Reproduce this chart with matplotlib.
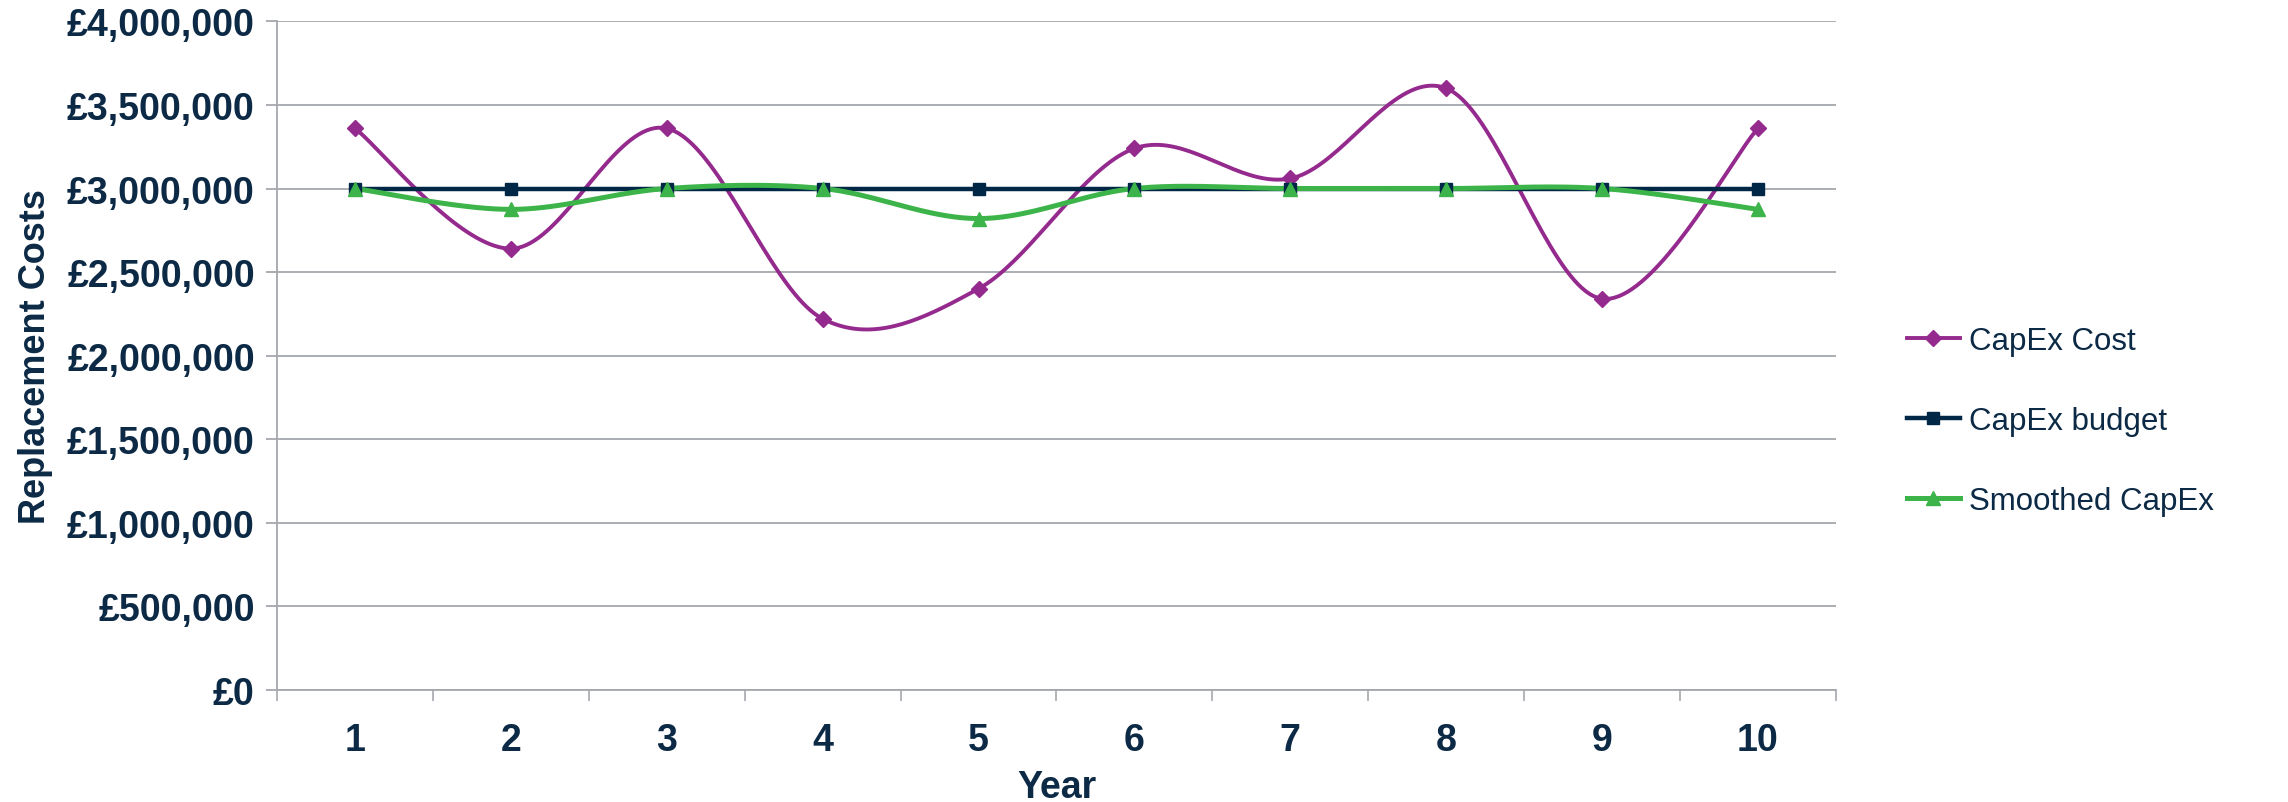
import numpy as np
import matplotlib
matplotlib.use("Agg")
import matplotlib.pyplot as plt
from matplotlib.ticker import FuncFormatter, MultipleLocator, FixedLocator
from matplotlib.lines import Line2D

# yearly replacement costs
years = [1, 2, 3, 4, 5, 6, 7, 8, 9, 10]
capex_cost = [3360000, 2640000, 3360000, 2220000, 2400000, 3240000, 3060000, 3600000, 2340000, 3360000]
capex_budget = [3000000, 3000000, 3000000, 3000000, 3000000, 3000000, 3000000, 3000000, 3000000, 3000000]
smoothed_capex = [3000000, 2875000, 3000000, 3000000, 2820000, 3000000, 3000000, 3000000, 3000000, 2875000]

NAVY = "#0c2a45"
PURPLE = "#952a8e"
DARK = "#002846"
GREEN = "#3cb44a"
GRID = "#a4a8ad"

plt.rcParams['font.family'] = ['Liberation Sans', 'DejaVu Sans']


def smooth(xs, ys, n=40):
    # Catmull-Rom style bezier through every point, ends duplicated
    xs = np.asarray(xs, float)
    ys = np.asarray(ys, float)
    px = np.concatenate([[xs[0]], xs, [xs[-1]]])
    py = np.concatenate([[ys[0]], ys, [ys[-1]]])
    outx, outy = [], []
    t = np.linspace(0, 1, n)
    for i in range(1, len(px) - 2):
        p0 = np.array([px[i], py[i]])
        p3 = np.array([px[i + 1], py[i + 1]])
        c1 = p0 + (np.array([px[i + 1], py[i + 1]]) - np.array([px[i - 1], py[i - 1]])) / 6
        c2 = p3 - (np.array([px[i + 2], py[i + 2]]) - np.array([px[i], py[i]])) / 6
        b = ((1 - t) ** 3)[:, None] * p0 + (3 * (1 - t) ** 2 * t)[:, None] * c1 \
            + (3 * (1 - t) * t ** 2)[:, None] * c2 + (t ** 3)[:, None] * p3
        outx.extend(b[:, 0])
        outy.extend(b[:, 1])
    return outx, outy


fig = plt.figure(figsize=(22.88, 8.03), dpi=100)
ax = fig.add_axes([0.1211, 0.140, 0.6813, 0.832])

series = [
    (capex_cost, PURPLE, "D", 8, 2.8, True, "CapEx Cost"),
    (capex_budget, DARK, "s", 8.5, 3.2, False, "CapEx budget"),
    (smoothed_capex, GREEN, "^", 9.5, 3.6, True, "Smoothed CapEx"),
]
handles = []
for vals, col, mk, ms, lw, sm, name in series:
    if sm:
        sx, sy = smooth(years, vals)
    else:
        sx, sy = years, vals
    ax.plot(sx, sy, color=col, lw=lw, zorder=3, solid_capstyle='round')
    ax.plot(years, vals, ls='none', marker=mk, ms=ms, color=col, zorder=4)
    handles.append(Line2D([], [], color=col, lw=lw, marker=mk, ms=ms, label=name))

ax.set_xlim(0.5, 10.5)
ax.set_ylim(0, 4000000)
ax.yaxis.set_major_locator(MultipleLocator(500000))
ax.yaxis.set_major_formatter(FuncFormatter(lambda v, p: "£{:,.0f}".format(v)))
ax.grid(axis='y', color=GRID, lw=1.3)
ax.set_axisbelow(True)

ax.xaxis.set_major_locator(FixedLocator(years))
ax.xaxis.set_minor_locator(FixedLocator(np.arange(0.5, 11, 1)))
ax.tick_params(axis='x', which='major', length=0, pad=23)
ax.tick_params(axis='x', which='minor', length=8, width=1.2, color=GRID)
ax.tick_params(axis='y', length=8, width=1.3, color=GRID, pad=8)

for s in ['top', 'right']:
    ax.spines[s].set_visible(False)
for s in ['left', 'bottom']:
    ax.spines[s].set_color(GRID)
    ax.spines[s].set_linewidth(1.3)

for lab in ax.get_xticklabels() + ax.get_yticklabels():
    lab.set_fontsize(27)
    lab.set_fontweight('bold')
    lab.set_color(NAVY)

ax.set_xlabel("Year", fontsize=27, fontweight='bold', color=NAVY, labelpad=8)
ax.set_ylabel("Replacement Costs", fontsize=26, fontweight='bold', color=NAVY, labelpad=10)

fig.legend(handles=handles, loc='upper left', bbox_to_anchor=(0.821, 0.628),
           frameon=False, fontsize=22.5, labelcolor=NAVY, handlelength=1.7,
           handletextpad=0.3, labelspacing=1.6)

fig.savefig("out.png", dpi=100)
